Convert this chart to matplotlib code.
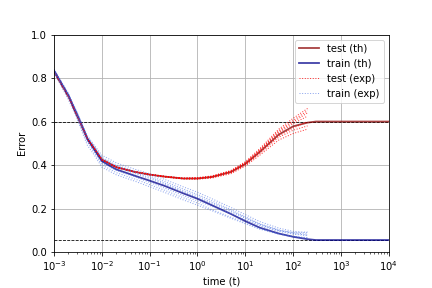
import matplotlib
matplotlib.use('Agg')
import matplotlib.pyplot as plt

# time grid of the experimental runs
t_exp = [1e-3, 2e-3, 3e-3, 5e-3, 7e-3, 1e-2, 1.5e-2, 2e-2, 5e-2, 0.1, 0.2, 0.5, 1, 2, 5,
         10, 20, 50, 100, 200]
# theory curves go on to the plateau
t_th = t_exp + [300, 1e3, 1e4]

test_th = [0.83, 0.715, 0.63, 0.52, 0.475, 0.425, 0.405, 0.39, 0.368, 0.356, 0.347, 0.338,
           0.338, 0.345, 0.368, 0.405, 0.46, 0.54, 0.578, 0.595, 0.6, 0.6, 0.6]
train_th = [0.835, 0.72, 0.635, 0.52, 0.47, 0.418, 0.395, 0.38, 0.35, 0.328, 0.305, 0.27,
            0.245, 0.215, 0.175, 0.142, 0.112, 0.085, 0.07, 0.059, 0.055, 0.055, 0.055]

test_runs = [
    [0.83, 0.715, 0.631, 0.52, 0.476, 0.425, 0.406, 0.392, 0.37, 0.358, 0.349, 0.34, 0.342, 0.35, 0.375, 0.415, 0.475, 0.565, 0.615, 0.66],
    [0.83, 0.714, 0.629, 0.519, 0.474, 0.423, 0.404, 0.389, 0.367, 0.355, 0.345, 0.336, 0.335, 0.34, 0.36, 0.395, 0.445, 0.515, 0.545, 0.565],
    [0.831, 0.716, 0.631, 0.521, 0.476, 0.426, 0.406, 0.391, 0.369, 0.357, 0.348, 0.339, 0.34, 0.347, 0.372, 0.41, 0.468, 0.553, 0.598, 0.64],
    [0.829, 0.714, 0.629, 0.519, 0.474, 0.424, 0.404, 0.389, 0.367, 0.355, 0.346, 0.337, 0.336, 0.343, 0.364, 0.4, 0.452, 0.528, 0.56, 0.58],
    [0.83, 0.715, 0.63, 0.52, 0.475, 0.425, 0.405, 0.39, 0.368, 0.356, 0.347, 0.338, 0.339, 0.346, 0.37, 0.408, 0.465, 0.548, 0.59, 0.625],
    [0.83, 0.715, 0.63, 0.52, 0.475, 0.424, 0.405, 0.39, 0.368, 0.356, 0.347, 0.338, 0.337, 0.344, 0.366, 0.403, 0.458, 0.535, 0.57, 0.6],
    [0.831, 0.716, 0.631, 0.52, 0.476, 0.426, 0.406, 0.391, 0.369, 0.357, 0.348, 0.339, 0.341, 0.348, 0.373, 0.412, 0.47, 0.558, 0.605, 0.65],
]
train_runs = [
    [0.84, 0.73, 0.645, 0.535, 0.49, 0.445, 0.425, 0.41, 0.38, 0.36, 0.335, 0.30, 0.275, 0.245, 0.205, 0.172, 0.14, 0.11, 0.095, 0.088],
    [0.83, 0.715, 0.625, 0.51, 0.455, 0.40, 0.38, 0.365, 0.335, 0.31, 0.285, 0.25, 0.225, 0.195, 0.16, 0.135, 0.108, 0.085, 0.072, 0.066],
    [0.835, 0.725, 0.643, 0.53, 0.485, 0.435, 0.415, 0.40, 0.37, 0.35, 0.325, 0.29, 0.265, 0.235, 0.195, 0.162, 0.13, 0.102, 0.088, 0.082],
    [0.825, 0.70, 0.615, 0.49, 0.445, 0.39, 0.37, 0.355, 0.325, 0.30, 0.275, 0.24, 0.215, 0.19, 0.155, 0.13, 0.105, 0.082, 0.07, 0.064],
    [0.84, 0.725, 0.64, 0.525, 0.482, 0.43, 0.41, 0.395, 0.365, 0.343, 0.318, 0.283, 0.258, 0.228, 0.19, 0.158, 0.128, 0.1, 0.085, 0.078],
    [0.83, 0.71, 0.628, 0.505, 0.462, 0.41, 0.39, 0.375, 0.345, 0.32, 0.295, 0.26, 0.235, 0.21, 0.175, 0.148, 0.12, 0.095, 0.082, 0.075],
    [0.835, 0.72, 0.635, 0.515, 0.472, 0.425, 0.405, 0.39, 0.36, 0.338, 0.312, 0.277, 0.25, 0.222, 0.185, 0.155, 0.125, 0.098, 0.09, 0.092],
]

# asymptotic levels
test_limit = 0.6
train_limit = 0.055

fig, ax = plt.subplots(figsize=(6, 4), dpi=72)
fig.subplots_adjust(left=0.125, right=0.9, top=0.88, bottom=0.125)

ax.axhline(test_limit, color='black', linestyle='--', linewidth=0.8)
ax.axhline(train_limit, color='black', linestyle='--', linewidth=0.8)

ax.plot(t_th, test_th, color='darkred', alpha=0.75, linewidth=1.8, label='test (th)')
ax.plot(t_th, train_th, color='darkblue', alpha=0.75, linewidth=1.8, label='train (th)')

for i, run in enumerate(test_runs):
    ax.plot(t_exp, run, color='red', linestyle=':', linewidth=1, alpha=0.8,
            label='test (exp)' if i == 0 else None)
for i, run in enumerate(train_runs):
    ax.plot(t_exp, run, color='royalblue', linestyle=':', linewidth=1, alpha=0.6,
            label='train (exp)' if i == 0 else None)

ax.set_xscale('log')
ax.set_xlim(1e-3, 1e4)
ax.set_ylim(0, 1)
ax.set_xlabel('time (t)')
ax.set_ylabel('Error')
ax.grid(True)
ax.legend(loc='upper right')

fig.savefig('out.png', dpi=72)
